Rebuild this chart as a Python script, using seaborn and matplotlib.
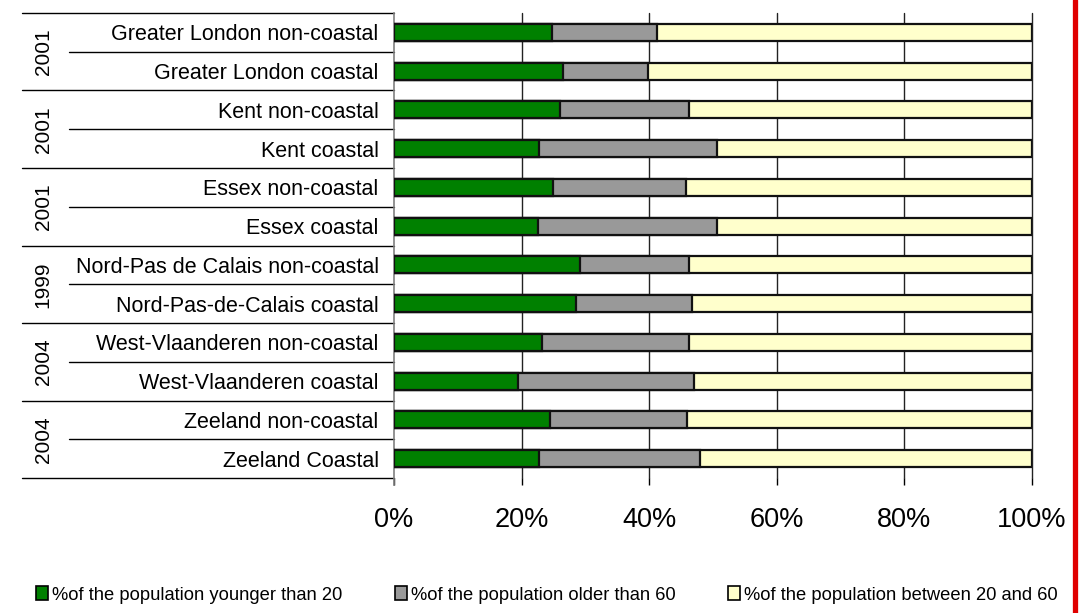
import matplotlib
matplotlib.use('Agg')
import matplotlib.pyplot as plt
from matplotlib.patches import Patch
from matplotlib.lines import Line2D
import matplotlib.transforms as mtransforms
import pandas as pd
import seaborn as sns

# Data (percentages)
regions = ['Greater London non-coastal', 'Greater London coastal',
           'Kent non-coastal', 'Kent coastal',
           'Essex non-coastal', 'Essex coastal',
           'Nord-Pas de Calais non-coastal', 'Nord-Pas-de-Calais coastal',
           'West-Vlaanderen non-coastal', 'West-Vlaanderen coastal',
           'Zeeland non-coastal', 'Zeeland Coastal']
years = ['2001', '2001', '2001', '1999', '2004', '2004']
younger_20 = [24.7, 26.5, 26.0, 22.8, 25.0, 22.5, 29.1, 28.5, 23.2, 19.4, 24.5, 22.8]
older_60 = [16.6, 13.3, 20.3, 27.9, 20.7, 28.2, 17.2, 18.2, 23.1, 27.6, 21.4, 25.1]
between_20_60 = [100 - a - b for a, b in zip(younger_20, older_60)]
legend_labels = ['%of the population younger than 20',
                 '%of the population older than 60',
                 '%of the population between 20 and 60']
x_ticks = [0, 20, 40, 60, 80, 100]

df = pd.DataFrame({'region': regions, 'young': younger_20,
                   'old': older_60, 'mid': between_20_60})
df['young_old'] = df['young'] + df['old']
df['total'] = df['young_old'] + df['mid']

sns.set_style('white')
plt.rcParams['font.family'] = ['Liberation Sans', 'DejaVu Sans']
plt.rcParams['text.color'] = 'black'
plt.rcParams['xtick.color'] = 'black'
plt.rcParams['ytick.color'] = 'black'

colors = ['#008000', '#999999', '#ffffcc']

fig = plt.figure(figsize=(10.8, 6.13), dpi=100)
ax = fig.add_axes([0.3648, 0.2202, 0.5907, 0.7586])

# stacked bars: draw cumulative totals back to front
sns.barplot(data=df, x='total', y='region', color=colors[2], edgecolor='#111111',
            linewidth=1.6, width=0.44, saturation=1, ax=ax, zorder=3)
sns.barplot(data=df, x='young_old', y='region', color=colors[1], edgecolor='#111111',
            linewidth=1.6, width=0.44, saturation=1, ax=ax, zorder=3)
sns.barplot(data=df, x='young', y='region', color=colors[0], edgecolor='#111111',
            linewidth=1.6, width=0.44, saturation=1, ax=ax, zorder=3)

ax.set_xlim(0, 100)
ax.set_ylim(len(regions) - 0.5, -0.5)
ax.set_xlabel('')
ax.set_ylabel('')
ax.set_xticks(x_ticks)
ax.set_xticklabels([f'{t}%' for t in x_ticks], fontsize=19.5)
ax.tick_params(axis='x', length=5, width=1, color='black', pad=16, bottom=True)
ax.tick_params(axis='y', length=0, pad=11, labelsize=15.5)
ax.grid(False)
for t in x_ticks[1:]:
    ax.axvline(t, color='#222222', linewidth=1, zorder=1, clip_on=False)
for s in ['top', 'right', 'bottom']:
    ax.spines[s].set_visible(False)
ax.spines['left'].set_color('#808080')
ax.spines['left'].set_linewidth(1.2)
ax.spines['left'].set_bounds(len(regions) - 0.5 + 0.18, -0.5)

# category separators and year groups on the left
trans = mtransforms.blended_transform_factory(ax.transAxes, ax.transData)
for i in range(len(regions) + 1):
    y = i - 0.5
    x0 = -0.583 if i % 2 == 0 else -0.509
    ax.add_line(Line2D([x0, 0], [y, y], transform=trans, color='black',
                       linewidth=1, clip_on=False))
for g, yr in enumerate(years):
    ax.text(-0.55, 2 * g + 0.5, yr, transform=trans, rotation=90,
            ha='center', va='center', fontsize=15)

handles = [Patch(facecolor=c, edgecolor='black', linewidth=1.2) for c in colors]
fig.legend(handles, legend_labels, loc='center left', bbox_to_anchor=(0.018, 1 - 595 / 613),
           ncol=3, frameon=False, fontsize=13.2, handlelength=0.65, handleheight=0.75,
           handletextpad=0.2, columnspacing=2.9)

# red border on the right edge
fig.add_artist(Line2D([0.9958, 0.9958], [0, 1], transform=fig.transFigure,
                      color='#e00000', linewidth=3.8))

fig.savefig('out.png', dpi=100)
